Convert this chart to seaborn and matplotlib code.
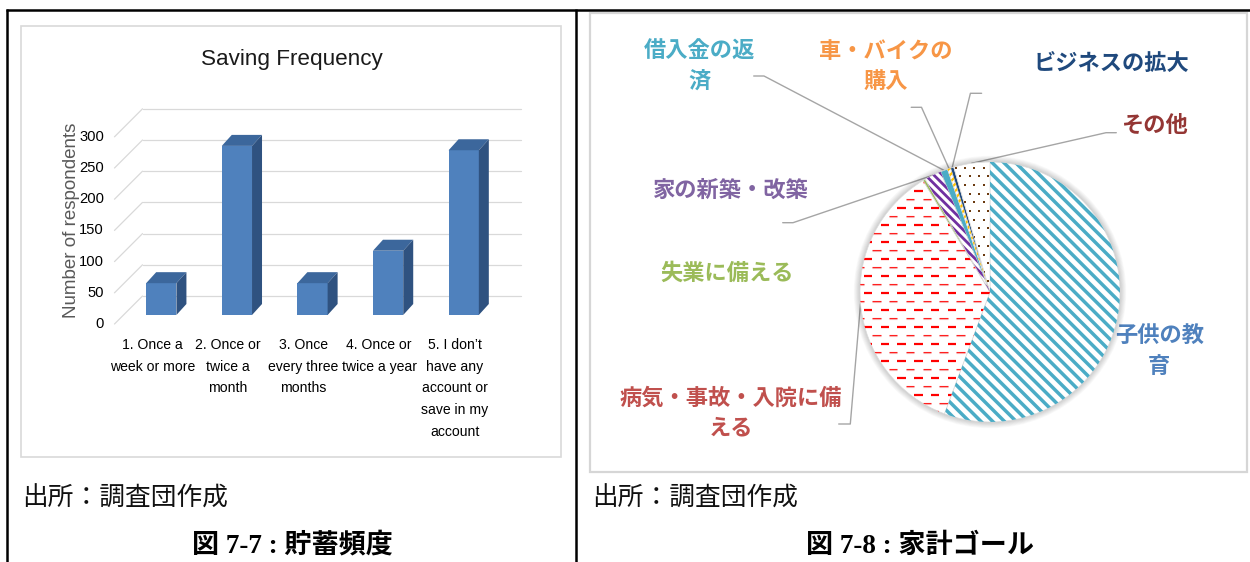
import numpy as np
import pandas as pd
import matplotlib
matplotlib.use("Agg")
import matplotlib.pyplot as plt
import seaborn as sns
from matplotlib import font_manager as fm
from matplotlib.transforms import IdentityTransform
from matplotlib.patches import Polygon, Rectangle, Circle
from matplotlib.collections import LineCollection
from matplotlib.lines import Line2D

# ---------------- data ----------------
freq_categories = [
    "1. Once a week or more",
    "2. Once or twice a month",
    "3. Once every three months",
    "4. Once or twice a year",
    "5. I don’t have any account or save in my account",
]
freq_tick_lines = [
    ["1. Once a", "week or more"],
    ["2. Once or", "twice a", "month"],
    ["3. Once", "every three", "months"],
    ["4. Once or", "twice a year"],
    ["5. I don’t", "have any", "account or", "save in my", "account"],
]
respondents = [51, 271, 51, 103, 264]
count_ticks = [0, 50, 100, 150, 200, 250, 300]

goal_categories = ["子供の教育", "病気・事故・入院に備える", "失業に備える", "家の新築・改築",
                   "借入金の返済", "車・バイクの購入", "ビジネスの拡大", "その他"]
goal_label_lines = [["子供の教", "育"], ["病気・事故・入院に備", "える"], ["失業に備える"],
                    ["家の新築・改築"], ["借入金の返", "済"], ["車・バイクの", "購入"],
                    ["ビジネスの拡大"], ["その他"]]
goal_shares = [55.7, 35.7, 0.3, 2.1, 0.9, 0.4, 0.4, 4.5]

# ---------------- styling ----------------
sns.set_theme(style="white")
names = {f.name for f in fm.fontManager.ttflist}
if "Liberation Sans Narrow" in names:
    NARROW, SQUEEZE = "Liberation Sans Narrow", 1.0
else:
    NARROW, SQUEEZE = "Liberation Sans", 0.9
CJK = "Noto Sans CJK JP"
plt.rcParams["font.family"] = [CJK, "DejaVu Sans"]

W, H = 1250, 562
fig = plt.figure(figsize=(W / 100, H / 100), dpi=100)
fig.patch.set_facecolor("white")


def fig_box(left, top, right, bottom):
    return [left / W, 1 - bottom / H, (right - left) / W, (bottom - top) / H]


# page layer in pixel coordinates (origin top-left)
bg = fig.add_axes([0, 0, 1, 1], zorder=0)
bg.set_xlim(0, W)
bg.set_ylim(H, 0)
bg.axis("off")

# table rules
bg.plot([6, W], [10, 10], color="black", lw=1.8, solid_capstyle="butt")
bg.plot([7, 7], [9, H], color="black", lw=1.8, solid_capstyle="butt")
bg.plot([576, 576], [9, H], color="black", lw=1.8, solid_capstyle="butt")

# chart frames
bg.add_patch(Rectangle((21, 26), 540, 431, fill=False, ec="#d9d9d9", lw=1.2))
bg.add_patch(Rectangle((590, 13), 657, 459, fill=False, ec="#d6d6d6", lw=1.6))

# ---------------- 3-D style column chart ----------------
GRID = "#d9d9d9"
FRONT_C, TOP_C, SIDE_C = "#4f81bd", "#3c679c", "#2f5280"
BAR_L, BAR_R = 123.5, 501.5
BASE_Y, PX_PER_UNIT = 315, 0.624
ax_bar = fig.add_axes(fig_box(BAR_L, BASE_Y - 300 * PX_PER_UNIT, BAR_R, BASE_Y), zorder=2)
ax_bar.patch.set_alpha(0)
df = pd.DataFrame({"frequency": freq_categories, "respondents": respondents})
sns.barplot(data=df, x="frequency", y="respondents", color=FRONT_C, saturation=1,
            width=0.4, edgecolor="none", linewidth=0, ax=ax_bar, zorder=3)
ax_bar.set_xlim(-0.5, 4.5)
ax_bar.set_ylim(0, 300)
ax_bar.axis("off")

T = ax_bar.transData
FRONT_OFF, BACK_OFF, DEPTH = 9, 19, (10, 11)
idt = IdentityTransform()
for v in count_ticks:
    (x0, y0), (x1, _) = T.transform([(-0.5, v), (4.5, v)])
    ax_bar.add_line(Line2D([x0 + BACK_OFF, x1 + BACK_OFF], [y0 + BACK_OFF, y0 + BACK_OFF],
                           transform=idt, color=GRID, lw=0.9, clip_on=False, zorder=1))
    ax_bar.add_line(Line2D([x0 - FRONT_OFF, x0 + BACK_OFF], [y0 - FRONT_OFF, y0 + BACK_OFF],
                           transform=idt, color=GRID, lw=0.9, clip_on=False, zorder=1))
    ax_bar.text(x0 - 19.5, y0 - FRONT_OFF, str(v), transform=idt, ha="right", va="center",
                family=NARROW, fontsize=11.8 * SQUEEZE, color="black")

for p in ax_bar.patches:
    x0, w, h = p.get_x(), p.get_width(), p.get_height()
    (ax_, ay), (bx, by), (cx, cy) = T.transform([(x0, h), (x0 + w, h), (x0 + w, 0)])
    dx, dy = DEPTH
    ax_bar.add_artist(Polygon([(ax_, ay), (bx, by), (bx + dx, by + dy), (ax_ + dx, ay + dy)],
                              closed=True, transform=idt, fc=TOP_C, ec="none",
                              clip_on=False, zorder=4))
    ax_bar.add_artist(Polygon([(bx, by), (cx, cy), (cx + dx, cy + dy), (bx + dx, by + dy)],
                              closed=True, transform=idt, fc=SIDE_C, ec="none",
                              clip_on=False, zorder=4))

for i, lines in enumerate(freq_tick_lines):
    xc, yb = T.transform((i, 0))
    for k, line in enumerate(lines):
        ax_bar.text(xc - FRONT_OFF, yb - 30 - k * 21.7, line, transform=idt, ha="center",
                    va="center", family=NARROW, fontsize=11.2 * SQUEEZE, color="black")

bg.text(291.4, 60, "Saving Frequency", ha="center", va="center", family=NARROW,
        fontsize=18 * SQUEEZE, color="#1a1a1a")
bg.text(71.8, 220, "Number of respondents", ha="center", va="center", rotation=90,
        family="Liberation Sans", fontsize=13.5, color="#595959")

# ---------------- pie chart ----------------
PIE_CX, PIE_CY, PIE_R = 990, 292, 130
ax_pie = fig.add_axes(fig_box(PIE_CX - 1.3 * PIE_R, PIE_CY - 1.3 * PIE_R,
                              PIE_CX + 1.3 * PIE_R, PIE_CY + 1.3 * PIE_R), zorder=2)
ax_pie.patch.set_alpha(0)

# soft shadow around the disc
for k in range(9):
    ax_pie.add_patch(Circle((0, 0), 1.0 + k * 0.006, fc="black", ec="none", alpha=0.025, zorder=0))

wedge_fill = ["white", "white", "#9bbb59", "white", "#4bacc6", "white", "#1f497d", "white"]
wedges, _ = ax_pie.pie(goal_shares, startangle=90, counterclock=False, colors=wedge_fill,
                       wedgeprops=dict(edgecolor="#dcdcdc", linewidth=0.5))
ax_pie.set_xlim(-1.3, 1.3)
ax_pie.set_ylim(-1.3, 1.3)
ax_pie.axis("off")

px = 1.0 / PIE_R  # one pixel in pie units


def clipped_segments(segs, wedge, color, lw):
    lc = LineCollection(segs, colors=color, linewidths=lw, zorder=wedge.get_zorder() + 0.1,
                        capstyle="butt")
    ax_pie.add_collection(lc)
    lc.set_clip_path(wedge)


def diagonal(step, sign):
    cs = np.arange(-2.6, 2.6, step)
    return [[(-1.3, sign * -1.3 + c), (1.3, sign * 1.3 + c)] for c in cs]


# education: wide downward diagonal stripes
clipped_segments(diagonal(8.3 * np.sqrt(2) * px, -1), wedges[0], "#4bacc6", 2.5)

# illness: dashed horizontal rows
row, dash, period = 8.5 * px, 8.3 * px, 16.8 * px
thick, thin, pink = [], [], []
for k, y in enumerate(np.arange(-1.05, 1.05, row)):
    start = -1.1 + (k % 2) * period / 2
    segs = [[(x, y), (x + dash, y)] for x in np.arange(start, 1.1, period)]
    if k % 2 == 0:
        thick += segs
    else:
        thin += segs
        pink += [[(a[0], a[1] - 1.2 * px), (b[0], b[1] - 1.2 * px)] for a, b in segs]
clipped_segments(thick, wedges[1], "#ff0000", 1.6)
clipped_segments(pink, wedges[1], "#f6b4b4", 0.8)
clipped_segments(thin, wedges[1], "#ff2020", 0.8)

# house: purple diagonal stripes
clipped_segments(diagonal(6.0 * np.sqrt(2) * px, -1), wedges[3], "#7030a0", 2.0)

# vehicle: yellow diagonal dashes
clipped_segments(diagonal(5.0 * np.sqrt(2) * px, 1), wedges[5], "#ffc000", 1.6)

# other: brown dot grid
dxs, dys = 9.3 * px, 8.7 * px
xs, ys = [], []
for k, y in enumerate(np.arange(-1.05, 1.05, dys)):
    for x in np.arange(-1.05 + (k % 2) * dxs / 2, 1.05, dxs):
        xs.append(x)
        ys.append(y)
dots = ax_pie.scatter(xs, ys, marker="s", s=4.5, c="#6b3a10", linewidths=0,
                      zorder=wedges[7].get_zorder() + 0.1)
dots.set_clip_path(wedges[7])

# labels and leader lines
label_colors = ["#4f81bd", "#c0504d", "#9bbb59", "#8064a2", "#4bacc6", "#f79646", "#1f497d", "#943634"]
label_pos = [
    [(1160.0, 336.7), (1159.0, 366.7)],
    [(730.5, 398.3), (730.9, 428.3)],
    [(726.8, 273.3)],
    [(730.5, 190.0)],
    [(699.8, 51.7), (699.8, 81.7)],
    [(885.3, 51.7), (885.3, 81.7)],
    [(1111.2, 63.3)],
    [(1154.6, 125.0)],
]
leader_start = {
    1: ((838.7, 424.0), (850.3, 424.0)),
    3: ((782.7, 222.7), (793.0, 222.7)),
    4: ((753.7, 76.0), (764.0, 76.0)),
    5: ((911.2, 107.3), (921.5, 107.3)),
    6: ((981.6, 93.3), (970.4, 93.3)),
    7: ((1116.3, 132.7), (1106.0, 132.7)),
}
for i, lines in enumerate(goal_label_lines):
    for (lx, ly), line in zip(label_pos[i], lines):
        bg.text(lx, ly, line, ha="center", va="center", fontsize=16, fontweight="bold",
                color=label_colors[i], family=[CJK, "DejaVu Sans"])
    if i in leader_start:
        w = wedges[i]
        mid = np.deg2rad((w.theta1 + w.theta2) / 2)
        ex, ey = ax_pie.transData.transform((np.cos(mid), np.sin(mid)))
        (sx, sy), (kx, ky) = leader_start[i]
        bg.plot([sx, kx, ex], [sy, ky, H - ey], color="#a5a5a5", lw=1.0, zorder=5)

# ---------------- captions ----------------
for x0 in (22, 592):
    bg.text(x0, 499, "出所：調査団作成", ha="left", va="center", fontsize=18.5,
            color="#111111", family=[CJK, "DejaVu Sans"])
bg.text(292.5, 546, "図 7-7 : 貯蓄頻度", ha="center", va="center", fontsize=19.5,
        fontweight="bold", color="black", family=["Liberation Serif", CJK])
bg.text(920, 546, "図 7-8 : 家計ゴール", ha="center", va="center", fontsize=19.5,
        fontweight="bold", color="black", family=["Liberation Serif", CJK])

fig.savefig("out.png", dpi=100, facecolor="white")
